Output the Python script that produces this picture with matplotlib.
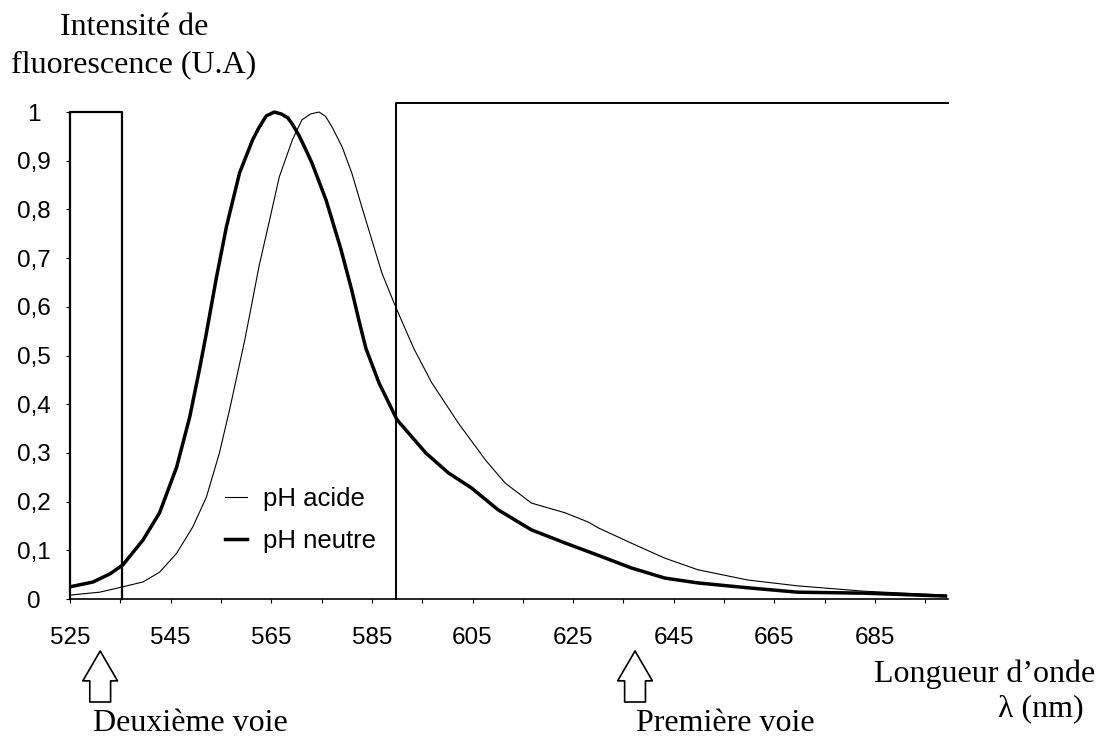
import matplotlib
matplotlib.use("Agg")
import matplotlib.pyplot as plt
from matplotlib.ticker import FixedLocator

# longueur d'onde (nm) et intensite normalisee
lam_neutre = [525.0, 529.6, 533.0, 535.5, 539.5, 542.8, 546.2, 548.8, 550.7, 552.0,
              554.1, 556.1, 558.7, 561.3, 562.5, 564.0, 565.6, 567.0, 568.3, 569.2,
              570.5, 571.9, 573.1, 575.9, 578.8, 581.0, 582.4, 583.8, 586.4, 590.0,
              595.7, 600.2, 604.8, 610.1, 616.7, 623.4, 629.9, 636.5, 643.2, 649.8,
              659.7, 669.6, 682.8, 699.0]
int_neutre = [0.025, 0.035, 0.052, 0.070, 0.121, 0.177, 0.271, 0.374, 0.470, 0.540,
              0.660, 0.765, 0.875, 0.943, 0.967, 0.992, 1.000, 0.996, 0.988, 0.975,
              0.952, 0.922, 0.895, 0.819, 0.720, 0.634, 0.573, 0.515, 0.444, 0.368,
              0.300, 0.259, 0.228, 0.183, 0.142, 0.115, 0.090, 0.064, 0.043, 0.033,
              0.023, 0.014, 0.012, 0.006]

lam_acide = [525.0, 530.9, 535.5, 539.5, 542.8, 546.2, 549.4, 552.1, 554.7, 556.7,
             559.7, 561.3, 562.6, 564.6, 566.6, 569.2, 571.1, 572.8, 574.5, 575.8,
             577.1, 579.1, 581.0, 583.0, 585.0, 587.0, 589.8, 593.3, 596.9, 602.2,
             607.6, 611.5, 616.7, 623.4, 628.0, 630.0, 636.5, 643.2, 649.8, 659.7,
             669.6, 682.8, 699.0]
int_acide = [0.008, 0.014, 0.025, 0.035, 0.055, 0.094, 0.148, 0.209, 0.300, 0.388,
             0.530, 0.615, 0.685, 0.775, 0.867, 0.943, 0.984, 0.996, 1.000, 0.991,
             0.969, 0.928, 0.875, 0.805, 0.737, 0.669, 0.598, 0.515, 0.444, 0.361,
             0.285, 0.238, 0.197, 0.177, 0.158, 0.146, 0.115, 0.084, 0.060, 0.039,
             0.027, 0.016, 0.008]

# fenetres des deux voies (debut, fin, hauteur)
voie2 = (525, 535.3, 1.0)
voie1 = (589.8, 699.5, 1.018)
fleches_x = [531, 637.3]
noms_voies = ["Deuxième voie", "Première voie"]

sans = ["Liberation Sans", "DejaVu Sans"]
serif = ["Liberation Serif", "DejaVu Serif"]

W, H = 1108, 737
fig = plt.figure(figsize=(W / 100, H / 100), dpi=100)
ax = fig.add_axes([70 / W, 138 / H, 878 / W, 496.7 / H])

ax.plot(lam_acide, int_acide, color="black", lw=0.8, label="pH acide")
ax.plot(lam_neutre, int_neutre, color="black", lw=2.5, label="pH neutre")

x0, x1, h = voie2
ax.plot([x0, x0, x1, x1], [0, h, h, 0], color="black", lw=1.6, clip_on=False)
x0, x1, h = voie1
ax.plot([x0, x0, x1], [0, h, h], color="black", lw=1.4, clip_on=False)

ax.set_xlim(525, 699.5)
ax.set_ylim(0, 1.02)
for s in ["top", "right", "left"]:
    ax.spines[s].set_visible(False)
ax.spines["bottom"].set_linewidth(1.2)

ax.xaxis.set_major_locator(FixedLocator(list(range(525, 686, 20))))
ax.xaxis.set_minor_locator(FixedLocator(list(range(535, 696, 20))))
ax.set_yticks([i / 10 for i in range(11)])
ax.set_yticklabels(["0"] + ["0,%d" % i for i in range(1, 10)] + ["1"])

ax.tick_params(axis="x", which="both", direction="out", length=3, width=0.8, pad=17)
ax.tick_params(axis="y", direction="out", length=3, width=0.8, pad=23)
for lab in ax.get_xticklabels():
    lab.set_fontfamily(sans)
    lab.set_fontsize(17.5)
for lab in ax.get_yticklabels():
    lab.set_fontfamily(sans)
    lab.set_fontsize(17.5)
    lab.set_horizontalalignment("center")

leg = ax.legend(loc="upper left", bbox_to_anchor=(0.1765, 0.225), frameon=False,
                borderpad=0, borderaxespad=0, handlelength=0.86, handletextpad=0.62,
                labelspacing=0.68, prop={"family": sans, "size": 18.5})

# fleches creuses sous l'axe
for xa in fleches_x:
    ax.annotate("", xy=(xa, 1 - 651 / H), xycoords=("data", "figure fraction"),
                xytext=(xa, 1 - 702 / H), textcoords=("data", "figure fraction"),
                arrowprops=dict(arrowstyle="simple,head_length=2.15,head_width=2.5,tail_width=1.5",
                                mutation_scale=10, fc="white", ec="black", lw=1.2,
                                shrinkA=0, shrinkB=0),
                annotation_clip=False)

fig.text(190 / W, 1 - 731 / H, noms_voies[0], ha="center", va="baseline",
         fontsize=23, family=serif)
fig.text(725 / W, 1 - 731 / H, noms_voies[1], ha="center", va="baseline",
         fontsize=23, family=serif)
fig.text(134 / W, 1 - 35 / H, "Intensité de", ha="center", va="baseline",
         fontsize=23, family=serif)
fig.text(134 / W, 1 - 72 / H, "fluorescence (U.A)", ha="center", va="baseline",
         fontsize=23, family=serif)
fig.text(985 / W, 1 - 682 / H, "Longueur d’onde", ha="center", va="baseline",
         fontsize=23, family=serif)
fig.text(1041 / W, 1 - 716 / H, "λ (nm)", ha="center", va="baseline",
         fontsize=23, family=serif)

fig.savefig("out.png", dpi=100)
